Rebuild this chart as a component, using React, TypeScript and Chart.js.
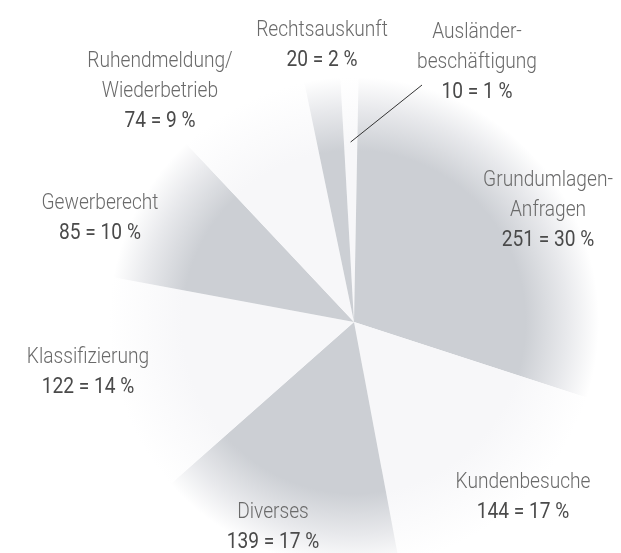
import React, { useEffect, useRef } from "react";
import { Chart, registerables } from "chart.js";

Chart.register(...registerables);

const categories = [
  "Ausländerbeschäftigung",
  "Grundumlagen-Anfragen",
  "Kundenbesuche",
  "Diverses",
  "Klassifizierung",
  "Gewerberecht",
  "Ruhendmeldung/Wiederbetrieb",
  "Rechtsauskunft",
];
const values = [10, 251, 144, 139, 122, 85, 74, 20];
const percents = [1, 30, 17, 17, 14, 10, 9, 2];
const labelLines = [
  ["Ausländer-", "beschäftigung"],
  ["Grundumlagen-", "Anfragen"],
  ["Kundenbesuche"],
  ["Diverses"],
  ["Klassifizierung"],
  ["Gewerberecht"],
  ["Ruhendmeldung/", "Wiederbetrieb"],
  ["Rechtsauskunft"],
];

// label block placement relative to pie centre (px): [dx, dy of first line]
const labelOffsets: [number, number][] = [
  [123, -290],
  [194, -142],
  [169, 160],
  [-81, 190],
  [-266, 35],
  [-254, -119],
  [-194, -261],
  [-32, -292],
];

const GRAY = "rgb(204,207,212)";
const GRAY_MID = "rgb(232,233,236)";
const LIGHT = "rgb(247,247,249)";

export default function App() {
  const ref = useRef<HTMLCanvasElement | null>(null);

  useEffect(() => {
    document.documentElement.style.overflow = "hidden";
    document.body.style.overflow = "hidden";
    document.body.style.margin = "0";
    const canvas = ref.current!;

    const labelPlugin = {
      id: "pieLabels",
      afterDatasetsDraw(chart: any) {
        const ctx = chart.ctx as CanvasRenderingContext2D;
        const meta = chart.getDatasetMeta(0);
        const arc0 = meta.data[0] as any;
        const cx = arc0.x;
        const cy = arc0.y;
        const lineH = 30;
        const sx = 0.87;
        ctx.save();
        ctx.textAlign = "center";
        ctx.textBaseline = "middle";
        categories.forEach((_, i) => {
          const [dx, dy] = labelOffsets[i];
          const lines = labelLines[i];
          const x = cx + dx;
          let y = cy + dy;
          const all = [...lines, `${values[i]} = ${percents[i]} %`];
          all.forEach((t, j) => {
            const isVal = j === all.length - 1;
            ctx.save();
            ctx.translate(x, y);
            ctx.scale(sx, 1);
            ctx.font = `${isVal ? 400 : 300} 22px Roboto, "Liberation Sans", sans-serif`;
            ctx.fillStyle = isVal ? "#4a4a4a" : "#6a6a6a";
            ctx.fillText(t, 0, 0);
            ctx.restore();
            y += lineH;
          });
        });
        // leader line for the small slice
        const a = meta.data[0] as any;
        const mid = (a.startAngle + a.endAngle) / 2;
        const r0 = 180;
        const x0 = cx + Math.cos(mid) * r0;
        const y0 = cy + Math.sin(mid) * r0;
        ctx.beginPath();
        ctx.moveTo(x0, y0);
        ctx.lineTo(cx + 68, cy - 237);
        ctx.strokeStyle = "#333";
        ctx.lineWidth = 1;
        ctx.stroke();
        ctx.restore();
      },
    };

    const chart = new Chart(canvas, {
      type: "pie",
      data: {
        labels: categories,
        datasets: [
          {
            data: values,
            borderWidth: 0,
            backgroundColor: (c: any) => {
              const isGray = c.dataIndex % 2 === 1;
              const base = isGray ? GRAY : LIGHT;
              const chartObj = c.chart;
              const area = chartObj.chartArea;
              if (!area) return base;
              const x = (area.left + area.right) / 2;
              const y = (area.top + area.bottom) / 2;
              const r = Math.min(area.width, area.height) / 2;
              const g = chartObj.ctx.createRadialGradient(x, y, 0, x, y, r);
              g.addColorStop(0, base);
              g.addColorStop(0.7, base);
              if (isGray) g.addColorStop(0.87, GRAY_MID);
              g.addColorStop(1, "rgb(255,255,255)");
              return g;
            },
          },
        ],
      },
      options: {
        animation: false,
        responsive: false,
        events: [],
        rotation: -3.2,
        layout: { padding: { left: 109, right: 22, top: 77, bottom: 0 } },
        plugins: {
          legend: { display: false },
          tooltip: { enabled: false },
        },
      },
      plugins: [labelPlugin],
    });
    return () => chart.destroy();
  }, []);

  return (
    <div style={{ position: "absolute", left: 0, top: 0, width: 621, height: 567 }}>
      <canvas ref={ref} width={621} height={567} style={{ width: 621, height: 567, display: "block" }} />
    </div>
  );
}
